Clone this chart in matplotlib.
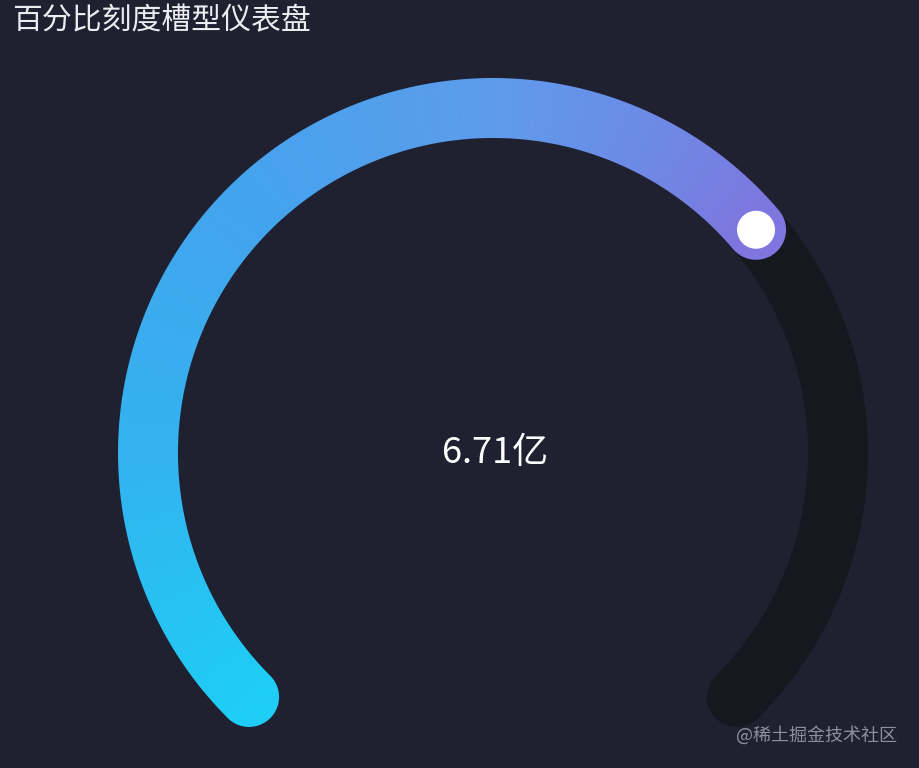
import numpy as np
import matplotlib
matplotlib.use("Agg")
from matplotlib import pyplot as plt
from matplotlib.path import Path
from matplotlib.patches import PathPatch, Circle
from matplotlib.colors import LinearSegmentedColormap

plt.rcParams['font.family'] = ['Noto Sans CJK SC', 'DejaVu Sans']

title = "百分比刻度槽型仪表盘"
value_label = "6.71亿"
progress_pct = 68.4      # share of the 270 degree track that is filled
start_angle = 225
end_angle = -45
grad_stops = [0.0, 0.24, 0.49, 0.73, 0.89, 1.0]
grad_colors = ["#1fcdf6", "#33b3f0", "#44a4ee", "#5e9cec", "#6f88e6", "#7f76e0"]
watermark = "@稀土掘金技术社区"

bg = "#1f2131"
track_color = "#161820"

cx, cy = 493, 453
r_mid = 345
half_w = 30


def arc_outline(a0, a1, n=400):
    # closed outline of a thick arc with round caps, angles in degrees
    t = np.radians(np.linspace(a0, a1, n))
    outer = np.c_[cx + (r_mid + half_w) * np.cos(t), cy - (r_mid + half_w) * np.sin(t)]
    inner = np.c_[cx + (r_mid - half_w) * np.cos(t[::-1]), cy - (r_mid - half_w) * np.sin(t[::-1])]
    e = np.radians(a1)
    ex, ey = cx + r_mid * np.cos(e), cy - r_mid * np.sin(e)
    s = np.radians(a0)
    sx, sy = cx + r_mid * np.cos(s), cy - r_mid * np.sin(s)
    sgn = np.sign(a1 - a0)
    c1 = e + sgn * np.linspace(0, np.pi, 60)
    cap_end = np.c_[ex + half_w * np.cos(c1), ey - half_w * np.sin(c1)]
    c2 = s + np.pi + sgn * np.linspace(0, np.pi, 60)
    cap_start = np.c_[sx + half_w * np.cos(c2), sy - half_w * np.sin(c2)]
    pts = np.vstack([outer, cap_end, inner, cap_start, outer[:1]])
    return Path(pts, closed=True)


fig = plt.figure(figsize=(9.2, 7.68), dpi=100, facecolor=bg)
ax = fig.add_axes([0, 0, 1, 1])
ax.set_facecolor(bg)
ax.set_xlim(0, 920)
ax.set_ylim(768, 0)
ax.set_aspect("equal")
ax.axis("off")

# background track
ax.add_patch(PathPatch(arc_outline(start_angle, end_angle), facecolor=track_color,
                       edgecolor="none", zorder=1))

# gradient progress bar, colour follows the sweep angle
val_angle = start_angle - (start_angle - end_angle) * progress_pct / 100
prog = PathPatch(arc_outline(start_angle, val_angle), facecolor="none",
                 edgecolor="none", zorder=2)
ax.add_patch(prog)
cmap = LinearSegmentedColormap.from_list("g", list(zip(grad_stops, grad_colors)))
xs = np.linspace(cx - 380, cx + 380, 500)
ys = np.linspace(cy - 380, cy + 380, 500)
gx, gy = np.meshgrid(xs, ys)
ang = np.degrees(np.arctan2(cy - gy, gx - cx))
ang = np.where(ang < -90, ang + 360, ang)
frac = np.clip((start_angle - ang) / (start_angle - val_angle), 0, 1)
img = ax.imshow(frac, cmap=cmap, vmin=0, vmax=1,
                extent=(xs[0], xs[-1], ys[-1], ys[0]), origin="upper",
                zorder=2, interpolation="bilinear")
img.set_clip_path(prog)

# white knob at the end of the bar
va = np.radians(val_angle)
ax.add_patch(Circle((cx + r_mid * np.cos(va), cy - r_mid * np.sin(va)), 19,
                    facecolor="white", edgecolor="none", zorder=3))

ax.text(cx + 2, cy, value_label, color="white", fontsize=26,
        ha="center", va="center", zorder=4)
ax.text(12, 21, title, color="#ececf0", fontsize=21.5, ha="left", va="center")
ax.text(897, 735, watermark, color="#9a9ca8", fontsize=13, ha="right", va="center",
        alpha=0.9)

fig.savefig("out.png", dpi=100, facecolor=bg)
